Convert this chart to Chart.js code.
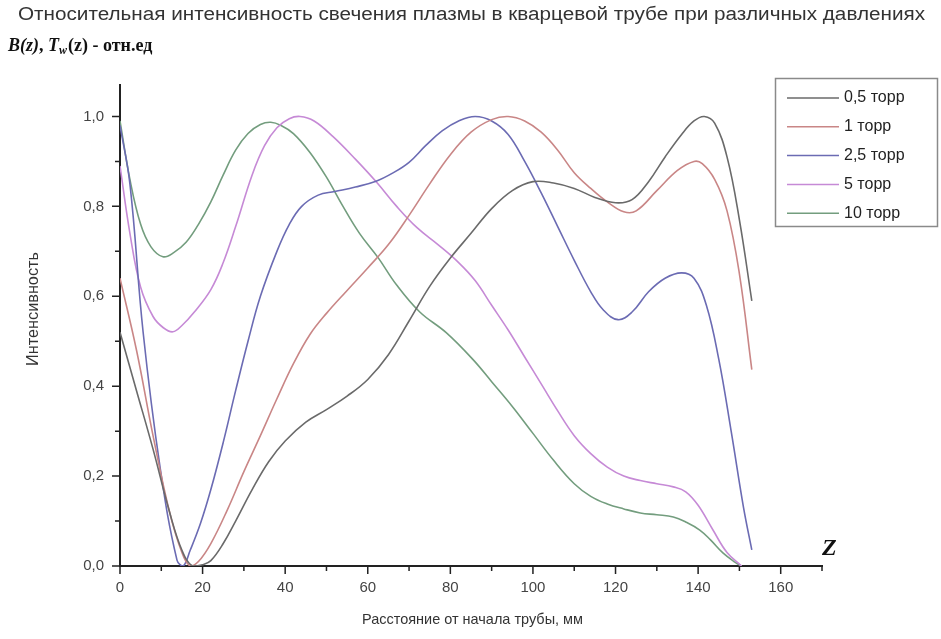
<!DOCTYPE html>
<html>
<head>
<meta charset="utf-8">
<script src="https://cdn.jsdelivr.net/npm/chart.js@4"></script>
<style>
    html, body { margin: 0; padding: 0; background: #fff; }
    #wrap { width: 941px; height: 639px; }
</style>
</head>
<body>
<div id="wrap"><canvas id="plasmaChart"></canvas></div>
<script>
// Distance from tube start, mm (x) and relative intensity (y) per pressure
const z05 = [0, 4, 8, 12, 15, 17.5, 20, 22, 25, 28, 32, 36, 40, 45, 50, 55, 60, 65, 70, 75, 80, 85, 90, 95, 100, 105, 110, 115, 120, 124, 128, 132, 136, 139, 141.5, 144, 147, 150, 153];
const b05 = [0.52, 0.39, 0.26, 0.12, 0.035, 0.0, 0.003, 0.012, 0.05, 0.1, 0.17, 0.232, 0.278, 0.32, 0.348, 0.378, 0.415, 0.47, 0.545, 0.622, 0.685, 0.74, 0.795, 0.835, 0.855, 0.852, 0.84, 0.82, 0.808, 0.815, 0.855, 0.91, 0.96, 0.99, 1.0, 0.985, 0.91, 0.77, 0.59];

const z1 = [0, 4, 8, 12, 15, 17, 19, 22, 26, 30, 34, 38, 42, 46, 50, 55, 60, 65, 70, 75, 80, 85, 90, 94, 98, 102, 106, 110, 114, 118, 122, 125, 130, 135, 139, 141, 144, 147, 150, 153];
const b1 = [0.64, 0.48, 0.29, 0.12, 0.03, 0.0, 0.01, 0.05, 0.125, 0.21, 0.29, 0.372, 0.45, 0.515, 0.562, 0.613, 0.663, 0.715, 0.78, 0.85, 0.915, 0.965, 0.993, 1.0, 0.99, 0.965, 0.925, 0.875, 0.84, 0.81, 0.788, 0.79, 0.835, 0.88, 0.9, 0.895, 0.86, 0.79, 0.65, 0.437];

const z25 = [0, 2.4, 5.6, 9.7, 13.8, 15.3, 17, 19.5, 22, 25, 28, 31, 34, 38, 41, 44, 48, 52, 57, 62, 66, 70, 74, 78, 82, 86, 90, 94, 98, 102, 106, 110, 114, 117, 120.6, 124, 128, 132, 136, 139, 142, 145, 148, 151, 153];
const b25 = [0.98, 0.85, 0.52, 0.22, 0.013, 0.0, 0.035, 0.095, 0.17, 0.275, 0.39, 0.5, 0.6, 0.7, 0.76, 0.8, 0.825, 0.833, 0.843, 0.856, 0.874, 0.898, 0.935, 0.968, 0.99, 1.0, 0.99, 0.96, 0.9, 0.83, 0.755, 0.68, 0.61, 0.57, 0.548, 0.565, 0.61, 0.64, 0.652, 0.64, 0.58, 0.46, 0.3, 0.13, 0.036];

const z5 = [0, 2.4, 5, 8, 10.5, 12.8, 15, 18, 22, 25, 28, 32, 35, 38, 41, 43.6, 47, 51.6, 57, 62.2, 67, 72, 77, 82, 86, 90, 94, 98, 102, 106, 110, 114, 118, 122, 126, 130, 134, 137, 140, 143.6, 147, 150.5];
const b5 = [0.89, 0.74, 0.62, 0.555, 0.53, 0.521, 0.535, 0.565, 0.615, 0.675, 0.755, 0.87, 0.935, 0.975, 0.995, 1.0, 0.99, 0.955, 0.905, 0.853, 0.8, 0.752, 0.715, 0.675, 0.635, 0.58, 0.525, 0.465, 0.405, 0.345, 0.29, 0.25, 0.22, 0.2, 0.19, 0.183, 0.176, 0.165, 0.135, 0.08, 0.03, 0.0];

const z10 = [0, 2.4, 5, 7.5, 10.4, 13, 16, 19, 22, 25, 28, 31, 34, 36.5, 39, 42, 46, 50, 54, 58, 62.5, 67, 72.6, 79, 85.5, 90, 95, 100, 105, 110, 114, 118, 122, 126, 130, 134, 137, 140.4, 143, 146, 149, 150.5];
const b10 = [0.99, 0.86, 0.76, 0.71, 0.688, 0.697, 0.72, 0.76, 0.81, 0.87, 0.925, 0.962, 0.982, 0.987, 0.98, 0.962, 0.92, 0.865, 0.8, 0.74, 0.686, 0.625, 0.565, 0.519, 0.459, 0.41, 0.355, 0.295, 0.235, 0.183, 0.155, 0.138, 0.127, 0.118, 0.114, 0.109, 0.098, 0.08, 0.058, 0.029, 0.008, 0.0];

const seriesLabels = ['0,5 торр', '1 торр', '2,5 торр', '5 торр', '10 торр'];
const seriesColors = ['#6a6a6a', '#c98686', '#6b6bb3', '#c68ad6', '#739d7e'];

const xTicks = [0, 20, 40, 60, 80, 100, 120, 140, 160];
const yTicks = [0, 0.2, 0.4, 0.6, 0.8, 1.0];

const titleText = 'Относительная интенсивность свечения плазмы в кварцевой трубе при различных давлениях';
const xTitle = 'Расстояние от начала трубы, мм';
const yTitle = 'Интенсивность';

function toPoints(xs, ys) {
    return xs.map((x, i) => ({ x: x, y: ys[i] }));
}

// draw a string squeezed/stretched to a target width
function fitText(ctx, text, x, y, width) {
    const w = ctx.measureText(text).width;
    ctx.save();
    ctx.translate(x, y);
    ctx.scale(width / w, 1);
    ctx.fillText(text, 0, 0);
    ctx.restore();
}

const decorations = {
    id: 'decorations',
    afterDraw(chart) {
        const { ctx, chartArea, scales } = chart;
        const xs = scales.x, ys = scales.y;
        ctx.save();

        // tick marks, major and minor
        ctx.strokeStyle = '#222';
        ctx.lineWidth = 1.5;
        ctx.beginPath();
        for (let v = 0; v <= 170; v += 10) {
            const px = xs.getPixelForValue(v);
            const len = v % 20 === 0 ? 8 : 5;
            ctx.moveTo(px, chartArea.bottom);
            ctx.lineTo(px, chartArea.bottom + len);
        }
        for (let i = 0; i <= 10; i++) {
            const py = ys.getPixelForValue(i / 10);
            const len = i % 2 === 0 ? 8 : 5;
            ctx.moveTo(chartArea.left, py);
            ctx.lineTo(chartArea.left - len, py);
        }
        ctx.stroke();

        ctx.fillStyle = '#333';
        ctx.textBaseline = 'middle';
        ctx.textAlign = 'left';

        ctx.font = '18px Arial';
        fitText(ctx, titleText, 18, 15, 907);

        ctx.font = '15px Arial';
        fitText(ctx, xTitle, 362, 620, 221);

        ctx.save();
        ctx.translate(34, 309);
        ctx.rotate(-Math.PI / 2);
        ctx.font = '16px Arial';
        fitText(ctx, yTitle, -57, 0, 114);
        ctx.restore();

        // B(z), T_w(z) - отн.ед
        ctx.fillStyle = '#111';
        let cx = 8;
        const by = 46;
        ctx.font = 'italic bold 18px "Liberation Serif", "DejaVu Serif", serif';
        ctx.fillText('B(z)', cx, by);
        cx += ctx.measureText('B(z)').width;
        ctx.font = 'bold 18px "Liberation Serif", serif';
        ctx.fillText(', ', cx, by);
        cx += ctx.measureText(', ').width;
        ctx.font = 'italic bold 18px "Liberation Serif", serif';
        ctx.fillText('T', cx, by);
        cx += ctx.measureText('T').width;
        ctx.font = 'italic bold 12px "Liberation Serif", serif';
        ctx.fillText('w', cx, by + 5);
        cx += ctx.measureText('w').width + 1;
        ctx.font = 'bold 18px "Liberation Serif", serif';
        ctx.fillText('(z) - отн.ед', cx, by);

        // Z axis label
        ctx.font = 'italic bold 24px "Liberation Serif", serif';
        ctx.fillText('Z', 822, 549);

        // legend box
        ctx.strokeStyle = '#8a8a8a';
        ctx.lineWidth = 1.5;
        ctx.strokeRect(775.5, 78.5, 162, 148);
        ctx.font = '16px Arial';
        ctx.fillStyle = '#222';
        seriesLabels.forEach((label, i) => {
            const ly = 98 + i * 28.8;
            ctx.strokeStyle = seriesColors[i];
            ctx.lineWidth = 1.5;
            ctx.beginPath();
            ctx.moveTo(787, ly);
            ctx.lineTo(839, ly);
            ctx.stroke();
            ctx.fillText(label, 844, ly);
        });

        ctx.restore();
    }
};

new Chart(document.getElementById('plasmaChart'), {
    type: 'line',
    data: {
        datasets: [
            { label: seriesLabels[0], data: toPoints(z05, b05) },
            { label: seriesLabels[1], data: toPoints(z1, b1) },
            { label: seriesLabels[2], data: toPoints(z25, b25) },
            { label: seriesLabels[3], data: toPoints(z5, b5) },
            { label: seriesLabels[4], data: toPoints(z10, b10) }
        ].map((ds, i) => Object.assign(ds, {
            borderColor: seriesColors[i],
            borderWidth: 1.6,
            pointRadius: 0,
            fill: false,
            tension: 0.4
        }))
    },
    options: {
        responsive: true,
        maintainAspectRatio: false,
        devicePixelRatio: 1,
        animation: false,
        layout: {
            padding: { top: 85, right: 119, left: 0, bottom: 0 }
        },
        plugins: {
            legend: { display: false },
            tooltip: { enabled: false },
            title: { display: false }
        },
        scales: {
            x: {
                type: 'linear',
                min: 0,
                max: 170,
                afterFit(scale) { scale.height = 73; },
                afterBuildTicks(scale) { scale.ticks = xTicks.map(v => ({ value: v })); },
                grid: { display: false, drawTicks: false },
                border: { display: true, color: '#222', width: 2 },
                ticks: {
                    padding: 13,
                    color: '#444',
                    font: { family: 'Arial', size: 15 },
                    maxRotation: 0,
                    autoSkip: false,
                    callback: v => String(v)
                }
            },
            y: {
                min: 0,
                max: 1.07,
                afterFit(scale) { scale.width = 120; },
                afterBuildTicks(scale) { scale.ticks = yTicks.map(v => ({ value: v })); },
                grid: { display: false, drawTicks: false },
                border: { display: true, color: '#222', width: 2 },
                ticks: {
                    padding: 16,
                    color: '#444',
                    font: { family: 'Arial', size: 15 },
                    autoSkip: false,
                    callback: v => v.toFixed(1).replace('.', ',')
                }
            }
        }
    },
    plugins: [decorations]
});
</script>
</body>
</html>
